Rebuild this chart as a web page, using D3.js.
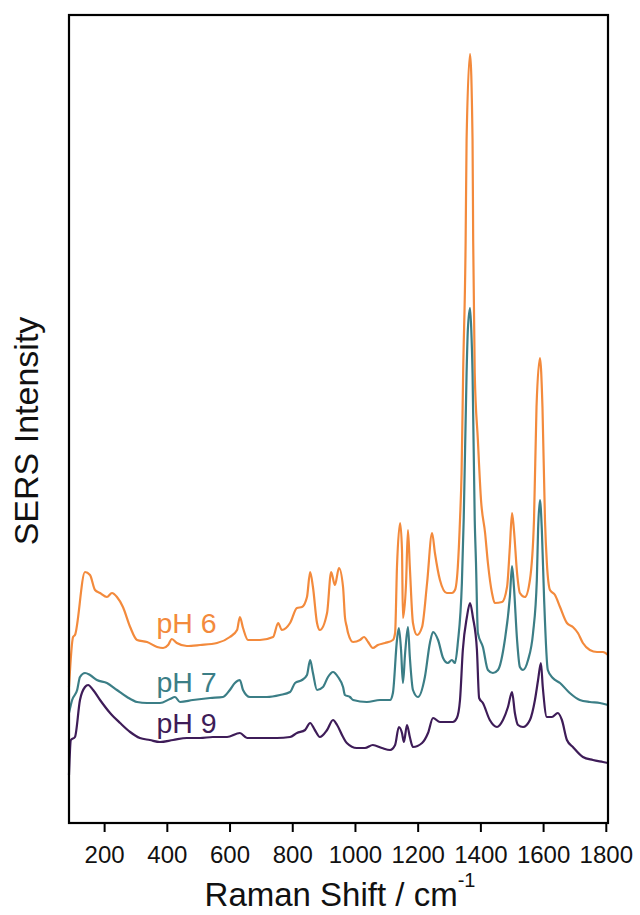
<!DOCTYPE html>
<html>
<head>
<meta charset="utf-8">
<script src="https://cdn.jsdelivr.net/npm/d3@7"></script>
<style>
  html, body { margin: 0; padding: 0; background: #fff; }
  svg { display: block; font-family: Arial, "Liberation Sans", Helvetica, sans-serif; }
</style>
</head>
<body>
<svg id="chart" width="640" height="915"></svg>
<script>
// Raman shift (cm-1) and SERS intensity (a.u.)
const ph6Shift = [88,101,107,139,155,171,187,209,225,241,260,283,305,337,369,388,404,416,432,464,506,560,601,624,633,643,659,697,739,755,767,793,815,831,847,857,866,879,888,911,924,936,949,962,968,974,978,994,1016,1029,1042,1057,1073,1096,1121,1128,1134,1144,1150,1153,1163,1169,1175,1185,1198,1214,1230,1246,1255,1271,1293,1309,1319,1328,1335,1340,1345,1353,1356,1367,1375,1377,1382,1392,1402,1415,1424,1437,1446,1469,1485,1494,1501,1507,1517,1526,1542,1558,1571,1579,1590,1598,1606,1612,1622,1638,1654,1676,1695,1711,1727,1749,1772,1791,1807];
const ph6Int   = [136,186,188,251,248,233,230,226,230,226,216,196,183,181,176,175,178,184,180,177,178,180,186,193,206,195,183,183,186,200,193,200,215,216,226,251,236,200,193,210,251,238,255,236,206,196,190,181,183,186,181,175,178,180,183,190,256,300,273,205,240,293,256,200,188,196,240,290,270,243,230,230,233,256,303,350,450,583,683,769,683,583,450,383,323,290,260,230,220,221,236,276,310,293,250,230,226,243,303,416,465,416,303,260,233,228,216,200,196,190,180,173,171,171,168];

const ph7Shift = [88,98,114,123,139,155,177,209,241,273,305,337,378,410,426,442,483,538,579,601,617,633,643,665,719,761,793,809,831,847,857,866,879,898,914,930,946,962,968,984,994,1038,1080,1112,1121,1134,1140,1147,1153,1160,1169,1175,1185,1201,1223,1239,1249,1265,1281,1296,1309,1319,1328,1341,1347,1356,1360,1367,1371,1375,1382,1386,1392,1408,1424,1440,1456,1478,1494,1501,1507,1517,1526,1536,1552,1568,1580,1584,1590,1596,1603,1615,1631,1654,1685,1717,1749,1781,1807];
const ph7Int   = [110,123,133,146,150,148,143,140,133,126,121,120,120,124,126,121,123,125,126,133,140,143,133,126,126,128,131,140,143,148,163,150,133,136,146,151,146,136,128,126,123,121,123,123,130,183,195,173,140,170,196,166,133,126,146,180,191,183,165,160,163,160,180,240,306,450,493,515,493,450,303,260,190,176,153,150,153,183,226,257,236,183,156,153,163,190,243,293,323,293,226,153,145,140,130,123,121,120,118];

const ph9Shift = [88,94,107,123,139,149,165,187,219,251,283,314,346,378,420,464,506,547,592,633,656,697,751,793,815,841,857,872,888,911,930,943,962,974,1006,1032,1057,1086,1112,1128,1140,1150,1156,1166,1175,1185,1214,1233,1249,1271,1296,1312,1325,1335,1344,1357,1367,1376,1389,1396,1408,1430,1453,1472,1488,1501,1510,1520,1536,1558,1574,1584,1593,1599,1612,1628,1647,1660,1676,1695,1727,1759,1791,1807];
const ph9Int   = [48,83,86,123,136,138,133,123,110,100,91,85,83,81,83,85,85,86,86,90,85,85,85,86,90,93,100,93,86,93,103,98,86,80,75,75,78,75,73,78,96,90,81,98,86,76,80,90,105,101,101,101,105,123,173,206,220,206,173,125,120,103,96,103,116,131,110,98,96,103,123,143,160,136,106,106,110,103,83,76,66,63,61,60];

const seriesNames  = ["pH 6", "pH 7", "pH 9"];
const seriesColors = ["#F38A3C", "#3B7E86", "#3E1C58"];
const xTicks = [200, 400, 600, 800, 1000, 1200, 1400, 1600, 1800];
const xDomain = [88, 1807];
const yDomain = [0, 808];
// label anchor points in data units (Raman shift, intensity)
const labelShift = [367, 367, 367];
const labelInt   = [190, 131, 90];

const series = [
  {name: seriesNames[0], color: seriesColors[0], pts: ph6Shift.map((s,i)=>[s, ph6Int[i]])},
  {name: seriesNames[1], color: seriesColors[1], pts: ph7Shift.map((s,i)=>[s, ph7Int[i]])},
  {name: seriesNames[2], color: seriesColors[2], pts: ph9Shift.map((s,i)=>[s, ph9Int[i]])}
];

const W = 640, H = 915;
const margin = {left: 69, right: 32, top: 15, bottom: 92};
const svg = d3.select("#chart");

const x = d3.scaleLinear().domain(xDomain).range([margin.left, W - margin.right]);
const y = d3.scaleLinear().domain(yDomain).range([H - margin.bottom, margin.top]);

const line = d3.line().x(d => x(d[0])).y(d => y(d[1])).curve(d3.curveMonotoneX);

const plot = svg.append("g");
plot.selectAll("path.spec").data(series).join("path")
  .attr("class", "spec")
  .attr("fill", "none")
  .attr("stroke", d => d.color)
  .attr("stroke-width", 2.2)
  .attr("stroke-linejoin", "round")
  .attr("d", d => line(d.pts));

// frame
svg.append("rect")
  .attr("x", x.range()[0]).attr("y", y.range()[1])
  .attr("width", x.range()[1] - x.range()[0])
  .attr("height", y.range()[0] - y.range()[1])
  .attr("fill", "none").attr("stroke", "#000").attr("stroke-width", 2.2);

// x axis
const xAxis = d3.axisBottom(x).tickValues(xTicks).tickSize(9).tickPadding(14).tickFormat(d3.format("d"));
const gx = svg.append("g").attr("transform", `translate(0,${y.range()[0]})`).call(xAxis);
gx.select(".domain").remove();
gx.selectAll(".tick line").attr("stroke", "#000").attr("stroke-width", 2);
gx.selectAll(".tick text").attr("font-size", 24).attr("fill", "#111")
  .attr("font-family", "Arial, 'Liberation Sans', sans-serif");

// series labels
svg.selectAll("text.lab").data(series).join("text")
  .attr("class", "lab")
  .attr("x", (d,i) => x(labelShift[i]))
  .attr("y", (d,i) => y(labelInt[i]))
  .attr("fill", d => d.color)
  .attr("font-size", 28.5)
  .text(d => d.name);

// axis titles
const xt = svg.append("text")
  .attr("x", 340).attr("y", 906)
  .attr("text-anchor", "middle")
  .attr("font-size", 33).attr("fill", "#111");
xt.append("tspan").text("Raman Shift / cm");
xt.append("tspan").attr("dy", -19).attr("font-size", 20).text("-1");

svg.append("text")
  .attr("transform", "translate(38,431) rotate(-90)")
  .attr("text-anchor", "middle")
  .attr("font-size", 34).attr("fill", "#111")
  .text("SERS Intensity");
</script>
</body>
</html>
